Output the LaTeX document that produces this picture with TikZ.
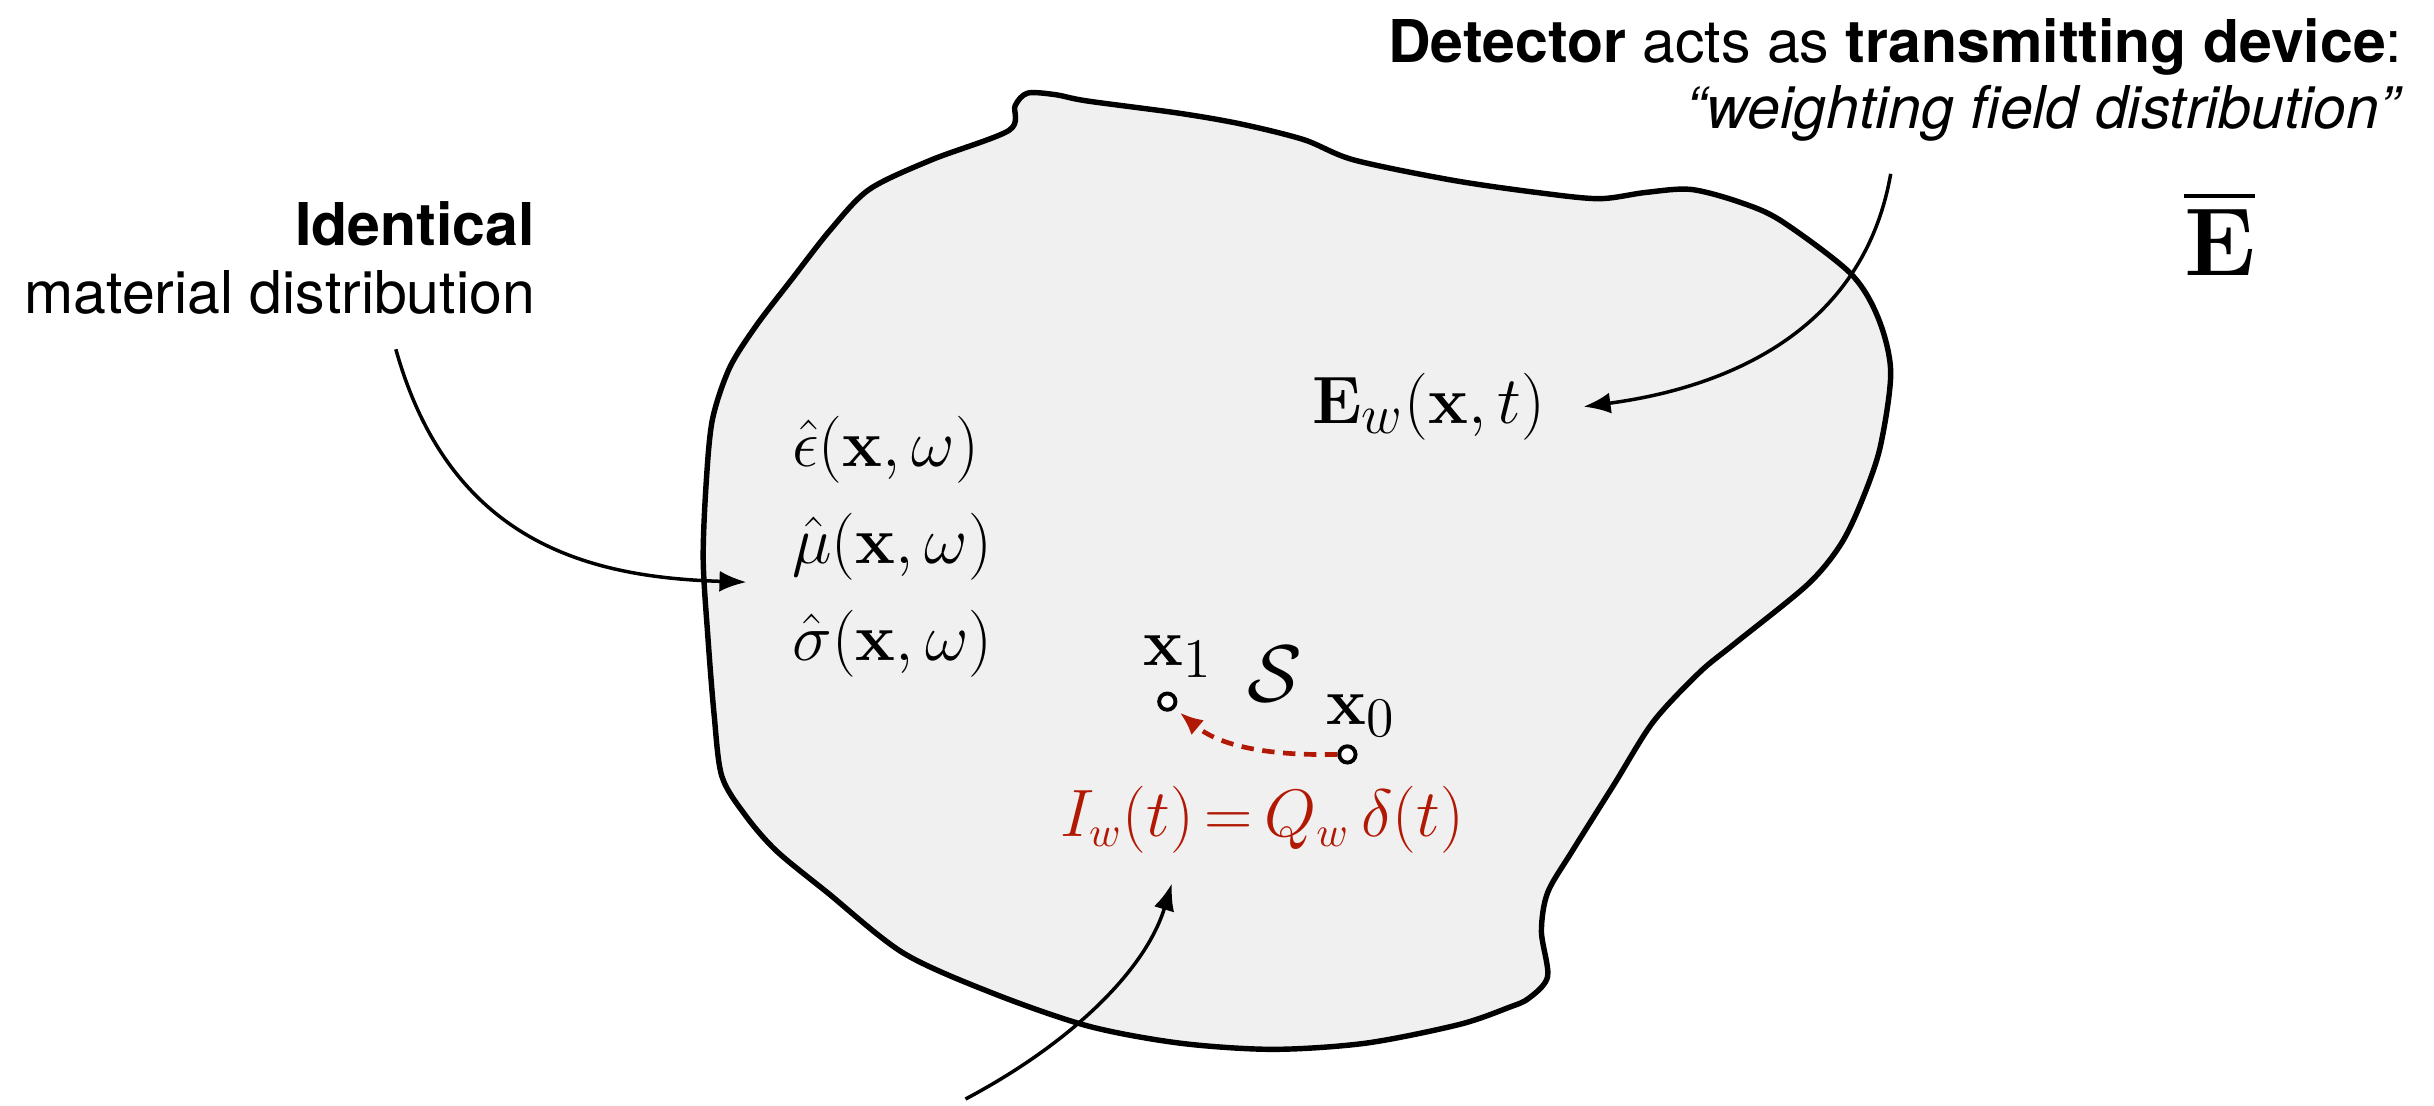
\documentclass[tikz,border=0pt]{standalone}
\usepackage{amsmath}
\usepackage[no-math]{fontspec}
\usetikzlibrary{arrows.meta}
\newfontfamily\helv{TeX Gyre Heros}
\definecolor{blobgray}{rgb}{0.94,0.94,0.94}
\definecolor{wred}{rgb}{0.70,0.10,0.02}

\begin{document}
\begin{tikzpicture}[x=0.4pt,y=-0.4pt,
  lbl/.style={font=\helv\fontsize{15.2}{18}\selectfont, inner sep=0pt},
  eq/.style={font=\fontsize{19}{22}\selectfont, inner sep=0pt},
  arrow/.style={-{Latex[length=7pt,width=5.4pt]}, line width=0.9pt},
  rarrow/.style={-{Latex[length=6pt,width=5pt]}, line width=1.2pt, draw=wred,
    dash pattern=on 3.2pt off 2.2pt},
  pt/.style={circle, draw, line width=1pt, fill=white, inner sep=0pt, minimum size=4.2pt}
]
\useasboundingbox (0,0) rectangle (1568,712);

% body with the material distribution
\draw[line width=1.4pt, fill=blobgray] plot[smooth cycle, tension=0.5] coordinates {
  (650,84) (654,68) (662,60) (680,61) (700,65) (760,73) (800,80) (840,90)
  (872,103) (935,116) (990,124) (1030,128) (1060,124) (1089,122) (1120,130)
  (1147,142) (1192,176) (1210,205) (1218,240) (1211,289) (1198,326) (1185,352)
  (1164,377) (1117,415) (1095,433) (1065,465) (1040,505) (1013,548) (997,575)
  (993,600) (997,629) (985,643) (972,649) (940,660) (880,672) (820,676)
  (760,672) (701,661) (640,640) (582,614) (533,575) (500,548) (480,525)
  (465,500) (460,460) (456,410) (453,360) (455,310) (459,270) (470,237)
  (487,210) (510,180) (535,148) (560,122) (600,103)};

% labels
\node[lbl, anchor=base east] (det) at (1548,40)
  {\textbf{Detector} acts as \textbf{transmitting device}:};
\node[lbl, anchor=base east] (wfd) at (1546,83)
  {\itshape “weighting field distribution”};
\node[eq, font=\fontsize{26}{28}\selectfont] (ebar) at (1430,150) {$\overline{\mathbf{E}}$};
\node[lbl, anchor=base east] (ident) at (345,158) {\textbf{Identical}};
\node[lbl, anchor=base east] (matdist) at (345,202) {material distribution};

\node[eq, anchor=west] (eps) at (510,290) {$\hat{\epsilon}(\mathbf{x},\omega)$};
\node[eq, anchor=west] (mu) at (510,352) {$\hat{\mu}(\mathbf{x},\omega)$};
\node[eq, anchor=west] (sig) at (510,415) {$\hat{\sigma}(\mathbf{x},\omega)$};
\node[eq, anchor=west] (ew) at (845,262) {$\mathbf{E}_w(\mathbf{x},t)$};

\node[eq] (xone) at (759,423) {$\mathbf{x}_1$};
\node[eq, font=\fontsize{22}{26}\selectfont] (surf) at (821,434) {$\mathcal{S}$};
\node[eq] (xzero) at (877,461) {$\mathbf{x}_0$};
\node[pt] (pone) at (752,452) {};
\node[pt] (pzero) at (868,486) {};
\node[eq, text=wred, font=\fontsize{16}{20}\selectfont] (iw) at (813,528)
  {$\thickmuskip=3mu I_w(t) = Q_w\,\delta(t)$};

% connectors
\coordinate (matstart) at (255,225);
\coordinate (matend) at (481,375);
\coordinate (detstart) at (1218,112);
\coordinate (detend) at (1020,262);
\coordinate (iwstart) at (622,708);
\coordinate (iwend) at (755,569);
\coordinate (onetip) at (760,459);

\draw[arrow] (matstart) .. controls (290,350) and (380,372) .. (matend);
\draw[arrow] (detstart) .. controls (1200,215) and (1110,250) .. (detend);
\draw[arrow] (iwstart) .. controls (690,672) and (738,625) .. (iwend);
\draw[rarrow] (pzero.west) .. controls (815,487) and (785,480) .. (onetip);
\end{tikzpicture}
\end{document}
